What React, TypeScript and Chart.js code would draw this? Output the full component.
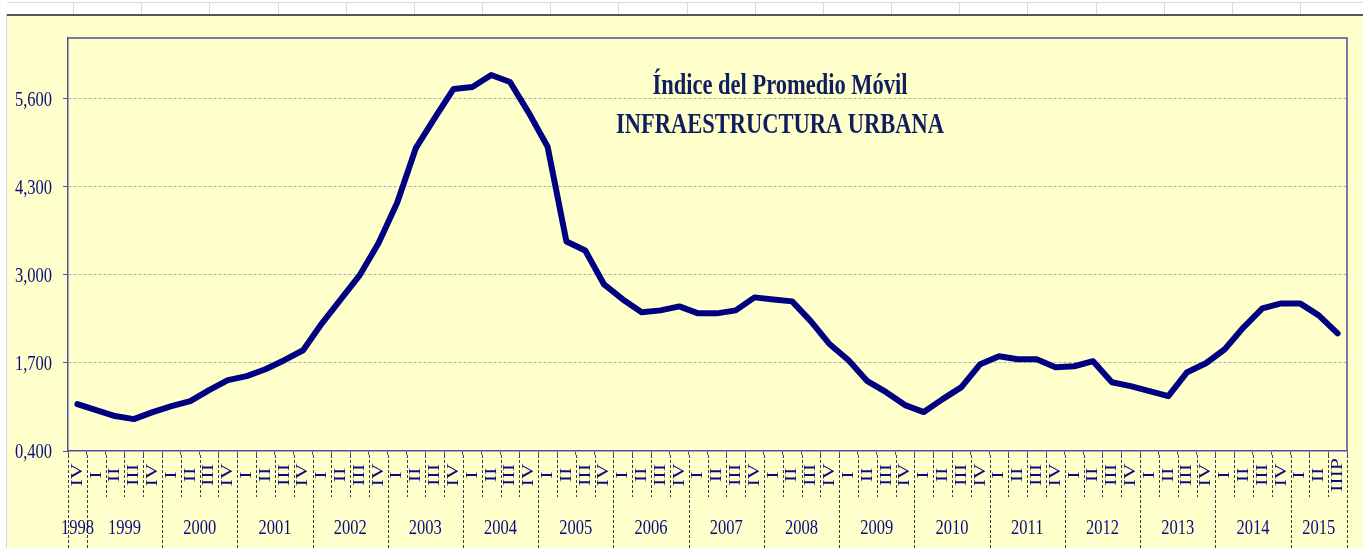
import React, { useEffect, useRef } from 'react';
import { Chart, registerables } from 'chart.js';

Chart.register(...registerables);

// ---- data ----
const years = ['1998', '1999', '2000', '2001', '2002', '2003', '2004', '2005', '2006', '2007', '2008', '2009', '2010', '2011', '2012', '2013', '2014', '2015'];

const quarters = [
  'IV',
  'I', 'II', 'III', 'IV',
  'I', 'II', 'III', 'IV',
  'I', 'II', 'III', 'IV',
  'I', 'II', 'III', 'IV',
  'I', 'II', 'III', 'IV',
  'I', 'II', 'III', 'IV',
  'I', 'II', 'III', 'IV',
  'I', 'II', 'III', 'IV',
  'I', 'II', 'III', 'IV',
  'I', 'II', 'III', 'IV',
  'I', 'II', 'III', 'IV',
  'I', 'II', 'III', 'IV',
  'I', 'II', 'III', 'IV',
  'I', 'II', 'III', 'IV',
  'I', 'II', 'III', 'IV',
  'I', 'II', 'III', 'IV',
  'I', 'II', 'IIIP',
];

const indexValues = [
  1.092,
  1.004, 0.916, 0.871, 0.975,
  1.063, 1.137, 1.299, 1.446,
  1.505, 1.608, 1.741, 1.888,
  2.286, 2.639, 2.993, 3.464,
  4.068, 4.878, 5.320, 5.747,
  5.777, 5.954, 5.850, 5.394,
  4.893, 3.494, 3.361, 2.860,
  2.639, 2.448, 2.477, 2.536,
  2.433, 2.433, 2.477, 2.669,
  2.639, 2.610, 2.315, 1.976,
  1.741, 1.431, 1.269, 1.078,
  0.975, 1.166, 1.343, 1.682,
  1.799, 1.755, 1.755, 1.637,
  1.652, 1.726, 1.416, 1.358,
  1.284, 1.210, 1.564, 1.696,
  1.903, 2.227, 2.507, 2.580,
  2.580, 2.403, 2.138,
];

const yTicks = [0.4, 1.7, 3.0, 4.3, 5.6];
const yMin = 0.4;
const yMax = 6.5;

const titleLines = ['Índice del Promedio Móvil', 'INFRAESTRUCTURA URBANA'];

// ---- styles ----
const YELLOW = '#ffffcc';
const LINE = '#000080';
const AXIS = '#4e4e9e';
const GRID = '#b0b0b0';
const LABEL = '#0a0a80';
const TITLE = '#0f1f5e';
const SEP = '#3a3a3a';
const SQ = 0.75;
const SERIF = '"Liberation Serif", "Times New Roman", serif';

const fmt = (v: number) => v.toFixed(3).replace('.', ',');

function sqText(
  ctx: CanvasRenderingContext2D,
  text: string,
  x: number,
  y: number,
  font: string,
  color: string,
  align: CanvasTextAlign,
  baseline: CanvasTextBaseline,
  rotate = 0,
) {
  ctx.save();
  ctx.translate(x, y);
  ctx.scale(SQ, 1);
  if (rotate) ctx.rotate(rotate);
  ctx.font = font;
  ctx.fillStyle = color;
  ctx.textAlign = align;
  ctx.textBaseline = baseline;
  ctx.fillText(text, 0, 0);
  ctx.restore();
}

// year of each category
const categoryYears: string[] = (() => {
  const out: string[] = [];
  let yi = 0;
  quarters.forEach((q, i) => {
    if (i > 0 && q === 'I') yi += 1;
    out.push(years[yi]);
  });
  return out;
})();

const decorPlugin = {
  id: 'decor',
  afterDraw(chart: any) {
    const { ctx, chartArea } = chart;
    const { left, right, top, bottom } = chartArea;
    const xs = chart.scales.x;
    const ys = chart.scales.y;
    const n = quarters.length;
    const step = (right - left) / n;

    // plot border top/right
    ctx.save();
    ctx.strokeStyle = AXIS;
    ctx.lineWidth = 1.5;
    ctx.beginPath();
    ctx.moveTo(left, top);
    ctx.lineTo(right, top);
    ctx.lineTo(right, bottom);
    ctx.stroke();
    ctx.restore();

    // y labels
    ys.ticks.forEach((t: any) => {
      sqText(ctx, fmt(t.value), left - 16, ys.getPixelForValue(t.value) + 1, `22px ${SERIF}`, LABEL, 'right', 'middle');
    });

    // separators
    ctx.save();
    ctx.strokeStyle = SEP;
    ctx.lineWidth = 1;
    ctx.setLineDash([3, 2]);
    for (let i = 0; i <= n; i++) {
      let bx: number;
      if (i === 0) bx = left;
      else if (i === n) bx = right;
      else bx = (xs.getPixelForValue(i - 1) + xs.getPixelForValue(i)) / 2;
      const isYear = i === 0 || i === n || quarters[i] === 'I';
      const x = Math.round(bx) + 0.5;
      ctx.beginPath();
      ctx.moveTo(x, bottom + 4);
      ctx.lineTo(x, isYear ? chart.height : bottom + 46);
      ctx.stroke();
    }
    ctx.restore();

    // quarter labels (rotated)
    quarters.forEach((q, i) => {
      const x = xs.getPixelForValue(i);
      sqText(ctx, q, x, bottom + 24, `22px ${SERIF}`, LABEL, 'center', 'middle', -Math.PI / 2);
    });

    // year labels
    years.forEach((yr) => {
      const first = categoryYears.indexOf(yr);
      const last = categoryYears.lastIndexOf(yr);
      const x0 = xs.getPixelForValue(first) - step / 2;
      const x1 = xs.getPixelForValue(last) + step / 2;
      sqText(ctx, yr, (x0 + x1) / 2, bottom + 77, `22px ${SERIF}`, LABEL, 'center', 'middle');
    });

    // title
    sqText(ctx, titleLines[0], 773, 79, `bold 30px ${SERIF}`, TITLE, 'center', 'alphabetic');
    sqText(ctx, titleLines[1], 773, 118, `bold 30px ${SERIF}`, TITLE, 'center', 'alphabetic');
  },
};

const CW = 1356;
const CH = 533;

export default function App() {
  const ref = useRef<HTMLCanvasElement | null>(null);

  useEffect(() => {
    if (!ref.current) return;
    const chart = new Chart(ref.current, {
      type: 'line',
      data: {
        labels: quarters,
        datasets: [
          {
            data: indexValues,
            borderColor: LINE,
            borderWidth: 6,
            pointRadius: 0,
            tension: 0,
            fill: false,
            borderJoinStyle: 'round',
            borderCapStyle: 'round',
          },
        ],
      },
      options: {
        animation: false,
        responsive: false,
        maintainAspectRatio: false,
        devicePixelRatio: 1,
        layout: { padding: { top: 23, right: 16, left: 0, bottom: 0 } },
        plugins: {
          legend: { display: false },
          tooltip: { enabled: false },
          title: { display: false },
        },
        scales: {
          x: {
            type: 'category',
            offset: true,
            grid: {
              display: true,
              offset: true,
              drawOnChartArea: false,
              drawTicks: true,
              tickLength: 4,
              color: AXIS,
              lineWidth: 1,
            },
            border: { display: true, color: AXIS, width: 1.5 },
            ticks: { display: false },
            afterFit: (s: any) => {
              s.height = 97;
            },
          },
          y: {
            type: 'linear',
            min: yMin,
            max: yMax,
            afterBuildTicks: (s: any) => {
              s.ticks = yTicks.map((v) => ({ value: v }));
            },
            grid: {
              display: true,
              drawTicks: true,
              tickLength: 5,
              tickColor: AXIS,
              lineWidth: 1,
              color: (c: any) => (c.tick && Math.abs(c.tick.value - yMin) < 1e-6 ? 'rgba(0,0,0,0)' : GRID),
            },
            border: { display: true, color: AXIS, width: 1.5, dash: [3, 2] },
            ticks: { display: false },
            afterFit: (s: any) => {
              s.width = 61;
            },
          },
        },
      },
      plugins: [decorPlugin],
    } as any);
    return () => chart.destroy();
  }, []);

  const colLines: number[] = [];
  for (let k = 0; k <= 18; k++) colLines.push(Math.round(73 + k * 68.17));

  return (
    <div style={{ position: 'fixed', left: 0, top: 0, width: 1363, height: 548, background: '#ffffff', overflow: 'hidden' }}>
      {/* spreadsheet strip */}
      <div style={{ position: 'absolute', left: 7, top: 2, width: 1356, height: 1, background: '#d4dae6' }} />
      {colLines.map((x) => (
        <div key={x} style={{ position: 'absolute', left: x, top: 2, width: 1, height: 12, background: '#d4dae6' }} />
      ))}
      <div style={{ position: 'absolute', left: 7, top: 14, width: 1356, height: 2, background: '#555555' }} />
      <div style={{ position: 'absolute', left: 6, top: 14, width: 1, height: 534, background: '#cfd6e2' }} />
      {/* chart area */}
      <div style={{ position: 'absolute', left: 7, top: 16, width: CW, height: CH - 1, background: YELLOW }} />
      <canvas
        ref={ref}
        width={CW}
        height={CH}
        style={{ position: 'absolute', left: 7, top: 15, width: CW, height: CH }}
      />
    </div>
  );
}
